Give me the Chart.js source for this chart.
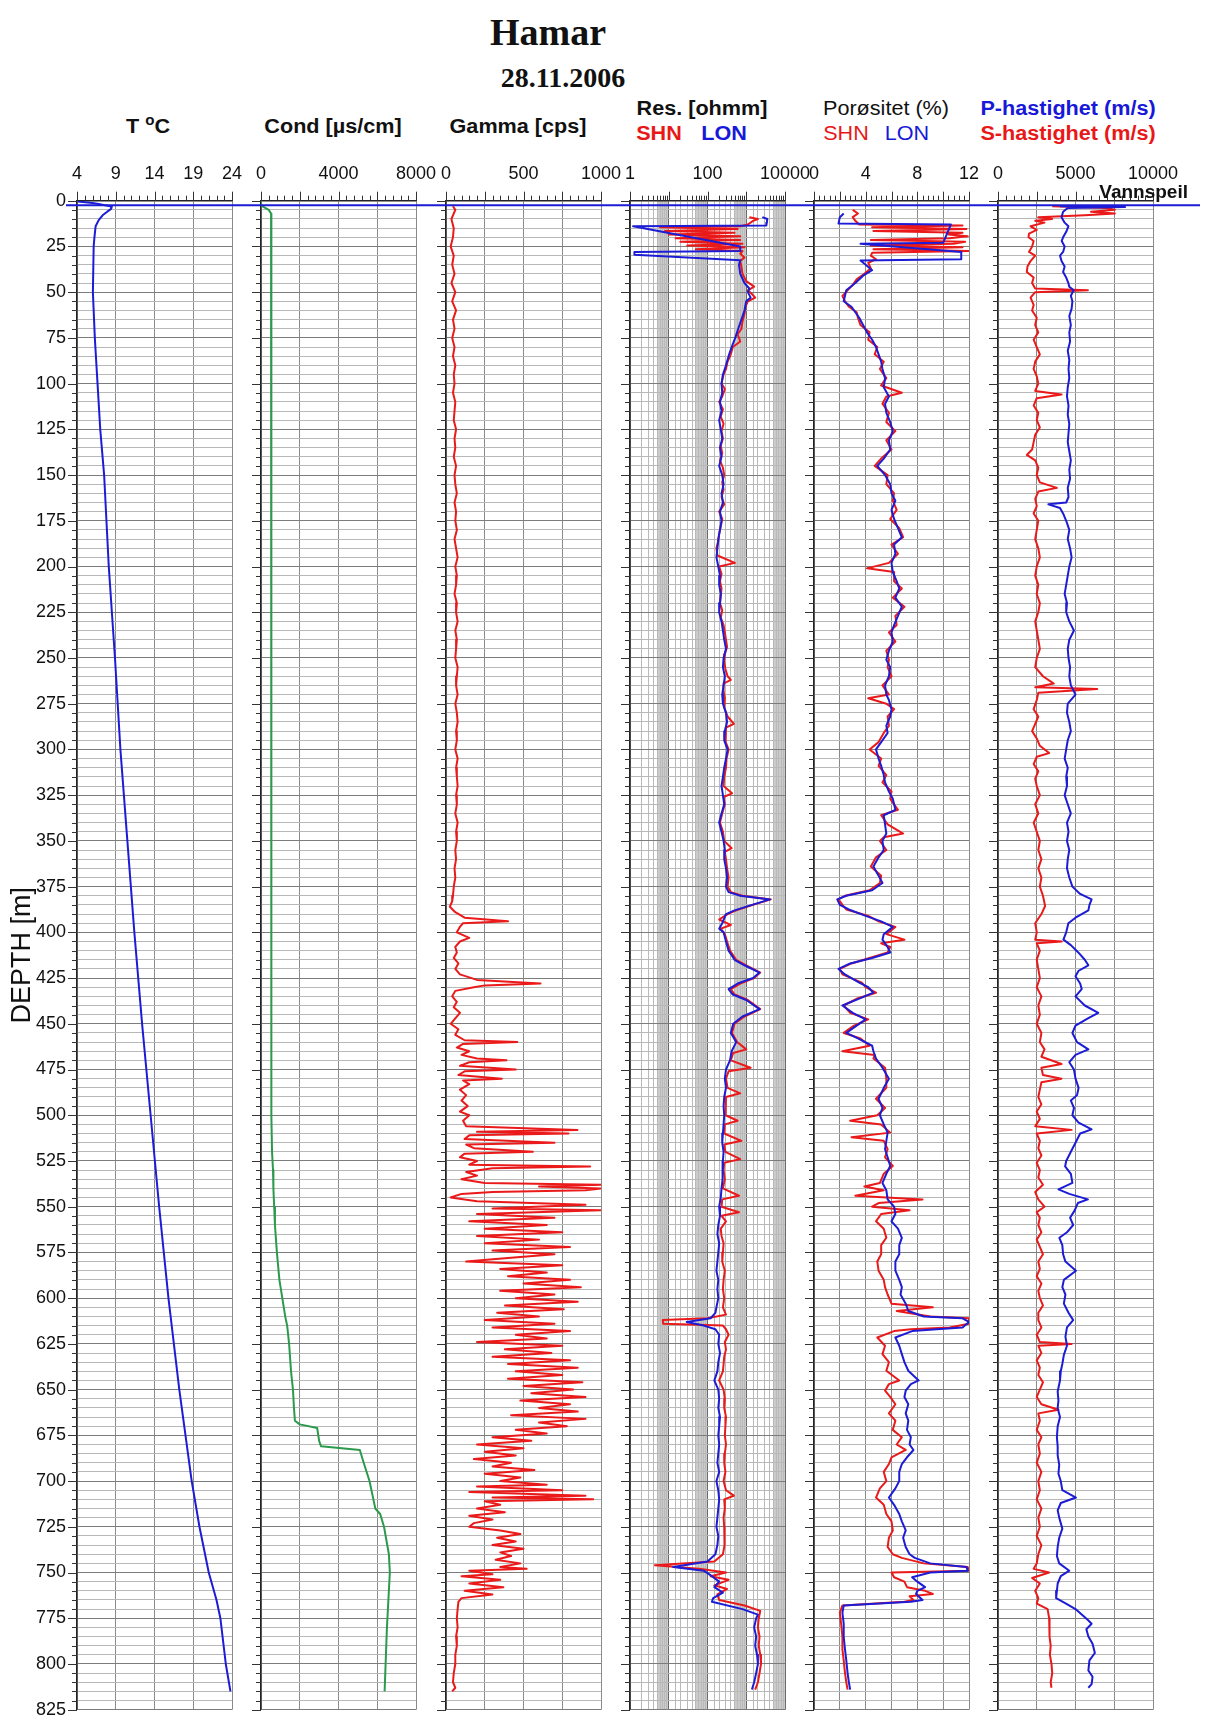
<!DOCTYPE html>
<html><head><meta charset="utf-8">
<script src="https://cdn.jsdelivr.net/npm/chart.js@4.4.1/dist/chart.umd.min.js"></script>
<style>
html,body{margin:0;padding:0;background:#fff}
body{width:1228px;height:1721px;position:relative;overflow:hidden;font-family:"Liberation Sans",Arial,sans-serif;color:#111}
canvas{position:absolute;top:140px}
.t{position:absolute;white-space:nowrap;transform:translateX(-50%);}
.h{position:absolute;white-space:nowrap;transform:translateX(-50%) scaleX(1.08);font-family:"Liberation Sans",Arial,sans-serif;font-size:20px;line-height:20px}
.b{font-weight:bold}
</style></head><body>
<div class="t" style="left:548px;top:13px;font:bold 38px/38px 'Liberation Serif',serif">Hamar</div>
<div class="t" style="left:563px;top:64px;font:bold 28px/28px 'Liberation Serif',serif">28.11.2006</div>
<div class="h b" style="left:148px;top:116px">T <span style="font-size:14px;position:relative;top:-8px">o</span>C</div>
<div class="h b" style="left:333px;top:116px">Cond [µs/cm]</div>
<div class="h b" style="left:518px;top:116px">Gamma [cps]</div>
<div class="h b" style="left:702px;top:98px">Res. [ohmm]</div>
<div class="h b" style="left:659px;top:123px;color:#e81818">SHN</div>
<div class="h b" style="left:724px;top:123px;color:#1818d8">LON</div>
<div class="h" style="left:886px;top:98px">Porøsitet (%)</div>
<div class="h" style="left:846px;top:123px;color:#e81818">SHN</div>
<div class="h" style="left:907px;top:123px;color:#1818d8">LON</div>
<div class="h b" style="left:1068px;top:98px;color:#1818d8">P-hastighet (m/s)</div>
<div class="h b" style="left:1068px;top:123px;color:#e81818">S-hastighet (m/s)</div>
<div style="position:absolute;right:40px;top:182px;font-weight:bold;font-size:19px;line-height:19px;z-index:20;font-family:'Liberation Sans',Arial,sans-serif">Vannspeil</div>
<script>
// ---------------- DATA (depth m, value) ----------------
const depthRange = [0, 825];
const waterDepth = 2.5;

const tempC = [[0.5,4.1],[1.2,6.0],[1.8,6.8],[2.5,7.6],[3.2,8.5],[4.5,8.4],[6,7.9],[8,7.3],[10.6,6.8],[14,6.4],[20,6.25],[25,6.15],[50,6.05],[75,6.3],[100,6.65],[125,7.0],[150,7.5],[200,8.1],[250,8.9],[300,9.6],[350,10.5],[400,11.4],[450,12.4],[500,13.5],[550,14.6],[600,15.8],[650,17.2],[700,18.8],[725,19.8],[750,21.0],[765,22.0],[775,22.5],[800,23.2],[815,23.8]];

const condUS = [[0,0],[2,0],[3,60],[5,400],[7,520],[50,520],[100,525],[200,530],[300,535],[400,540],[500,560],[520,570],[530,620],[540,640],[550,680],[560,720],[575,820],[590,950],[600,1100],[610,1250],[615,1350],[625,1450],[640,1550],[650,1650],[660,1700],[667,1750],[669,2000],[671,2900],[678,3000],[681,3100],[683,5100],[690,5300],[700,5600],[710,5800],[715,5900],[718,6150],[725,6350],[740,6600],[750,6650],[780,6500],[815,6380]];

const gammaCPS = [[3,45],[5,60],[10,35],[15,50],[20,45],[25,30],[30,50],[35,40],[40,55],[45,35],[50,60],[55,40],[60,65],[65,45],[70,55],[75,40],[80,55],[85,45],[90,60],[95,50],[100,55],[105,45],[110,60],[115,55],[120,50],[125,65],[130,55],[135,60],[140,50],[145,65],[150,55],[155,60],[160,70],[165,55],[170,65],[175,60],[180,70],[185,55],[190,65],[195,75],[200,60],[205,70],[210,65],[215,55],[220,70],[225,65],[230,75],[235,60],[240,70],[245,65],[250,60],[255,75],[260,70],[265,65],[270,75],[275,60],[280,70],[285,75],[290,65],[295,70],[300,60],[305,75],[310,65],[315,70],[320,75],[325,65],[330,70],[335,60],[340,75],[345,65],[350,70],[355,60],[360,65],[365,55],[370,60],[375,50],[380,45],
[383,40],[386,25],[389,60],[392,120],[394,400],[395,110],[397,90],[400,70],[403,150],[405,90],[408,60],[411,70],[414,50],[417,80],[420,60],[423,90],[426,200],[428,610],[429,250],[430,180],[432,60],[435,40],[438,70],[441,50],[444,90],[447,60],[450,30],[453,80],[456,60],[459,120],[460,460],[461,110],[463,70],[465,150],[467,100],[469,200],[470,390],[471,150],[473,90],[475,450],[476,120],[478,80],[480,360],[481,110],[483,150],[486,90],[489,130],[492,100],[495,140],[498,90],[500,150],[503,110],[506,130],[508,848],[509,200],[510,790],[511,150],[513,120],[515,700],[516,130],[518,180],[520,560],[521,120],[523,90],[525,200],[527,150],[528,930],[529,300],[531,130],[533,200],[535,100],[537,250],[538,1000],[539,600],[540,1000],[541,900],[542,300],[543,100],[545,30],[547,200],
[549,900],[551,300],[552,1000],[554,200],[556,700],[558,150],[560,650],[562,250],[564,750],[566,200],[568,600],[570,250],[572,800],[574,300],[576,700],[578,400],[580,130],[582,750],[584,350],[586,650],[588,400],[590,800],[592,500],[594,870],[596,350],[598,700],[600,450],[602,850],[604,380],[606,760],[608,330],[610,600],[612,250],[614,700],[616,300],[618,800],[620,450],[622,650],[624,200],[626,750],[628,380],[630,680],[632,300],[634,800],[636,400],[638,850],[640,450],[642,750],[644,400],[646,880],[648,500],[650,820],[652,550],[654,900],[656,480],[658,800],[660,600],[662,850],[664,420],[666,900],[668,600],[670,780],[672,450],[674,650],[676,300],[678,550],[680,200],[682,500],[684,250],[686,450],[688,180],[690,420],[692,300],[694,570],[696,250],[698,480],[700,350],[702,650],[703,200],[705,750],[706,150],[708,900],[709,300],[710,950],[711,250],[713,350],[715,200],[717,380],[719,150],[721,300],[723,180],[725,150],[727,350],[729,480],[731,330],[733,450],[735,300],[737,500],[739,350],[741,420],[743,320],[745,480],[747,350],[748,520],[749,150],[751,300],[752,100],[754,350],[756,150],[758,370],[760,120],[762,300],[764,100],[766,80],[770,75],[775,70],[780,75],[785,65],[790,70],[795,60],[800,60],[805,50],[810,45],[813,60],[815,40]];

const resLON = [[9,2600],[10,3500],[12,3400],[13.5,3300],[14,1.2],[25,700],[27.5,700],[28,1.3],[29.5,1.3],[32.5,700],[35,650],[40,700],[45,900],[48,1200],[50,1100],[53,1300],[55,1000],[60,900],[65,750],[70,620],[75,520],[80,420],[85,350],[90,300],[95,250],[100,230],[105,240],[110,210],[115,230],[120,200],[125,220],[130,240],[135,210],[140,230],[145,200],[150,240],[155,260],[160,230],[165,250],[170,210],[175,230],[180,210],[185,190],[190,180],[195,170],[200,190],[205,210],[210,200],[215,220],[220,210],[225,200],[230,230],[235,250],[240,270],[245,300],[250,260],[255,250],[260,280],[265,260],[270,240],[275,250],[280,300],[285,320],[290,280],[295,270],[300,330],[305,300],[310,270],[315,250],[320,230],[325,250],[330,270],[335,230],[340,200],[345,230],[350,260],[355,280],[360,270],[365,300],[370,320],[375,300],[378,350],[380,700],[382,4100],[385,1400],[388,500],[390,300],[395,240],[398,200],[400,260],[405,300],[410,350],[415,500],[418,900],[422,2200],[425,1500],[428,600],[431,350],[434,450],[437,1000],[442,2200],[446,800],[450,460],[455,400],[460,550],[465,420],[470,380],[475,300],[480,280],[485,300],[490,270],[495,260],[500,270],[505,260],[510,250],[515,240],[520,260],[525,250],[530,240],[535,250],[540,230],[545,220],[550,200],[555,210],[560,190],[565,180],[570,200],[575,190],[580,180],[585,170],[590,190],[595,180],[600,190],[605,170],[608,160],[611,120],[613,29],[615,80],[617,160],[620,200],[625,190],[630,210],[635,190],[640,180],[645,150],[650,190],[655,200],[660,190],[665,210],[670,200],[675,190],[680,200],[685,190],[690,180],[695,200],[700,170],[705,190],[710,200],[715,190],[720,180],[725,170],[730,190],[735,180],[740,160],[744,100],[747,13],[749,80],[752,130],[755,200],[758,150],[761,250],[764,140],[766,130],[770,800],[773,2000],[775,1800],[780,1600],[785,1800],[790,1700],[795,1900],[800,2000],[805,1800],[810,1600],[814,1400]];

const resSHN = [[9,1200],[10,2000],[11,1500],[13,1100],[14,700],[14.5,6],[15.5,600],[16.5,8],[17.5,500],[18.5,10],[19.5,700],[20.5,15],[21.5,700],[22.5,20],[23.5,800],[24.5,30],[25.5,900],[26.5,50],[27.5,800],[29,700],[31,900],[33,700],[36,750],[40,800],[44,1000],[47,1600],[49,1100],[51,1400],[53,1700],[55,1100],[58,950],[62,900],[66,800],[70,750],[73,600],[77,700],[80,450],[84,400],[88,330],[92,300],[95,260],[100,230],[103,280],[107,240],[110,200],[114,250],[118,220],[122,260],[126,230],[130,250],[134,220],[138,240],[142,210],[146,250],[150,270],[154,240],[158,260],[162,230],[166,270],[170,200],[174,240],[178,220],[182,200],[186,190],[190,170],[194,180],[198,510],[200,200],[204,230],[208,210],[212,230],[216,220],[220,210],[224,240],[228,220],[232,260],[236,280],[240,300],[244,320],[248,280],[252,270],[256,290],[260,330],[262,400],[264,260],[268,260],[272,280],[277,270],[282,330],[286,480],[288,300],[292,290],[296,300],[300,350],[305,310],[310,300],[315,270],[320,260],[324,430],[326,260],[330,280],[335,240],[340,210],[345,250],[350,270],[354,420],[356,280],[360,300],[365,320],[370,350],[375,330],[378,400],[380,800],[382,4300],[385,1500],[388,550],[390,330],[393,200],[396,400],[398,220],[401,280],[405,320],[410,380],[415,550],[418,1000],[422,2300],[425,1600],[428,700],[431,400],[434,500],[437,1100],[442,2300],[446,900],[450,500],[455,430],[460,580],[464,1000],[466,460],[470,400],[474,1300],[476,350],[480,300],[485,330],[488,700],[490,300],[495,290],[500,300],[503,600],[505,280],[510,270],[514,750],[516,270],[520,290],[524,700],[526,270],[530,260],[535,280],[540,250],[544,650],[546,240],[550,230],[553,650],[555,230],[558,300],[562,220],[566,230],[570,260],[575,250],[580,240],[585,280],[590,260],[595,250],[600,270],[605,250],[609,300],[611,100],[612,7],[614,7.2],[615,250],[617,300],[620,350],[624,280],[628,300],[632,270],[636,260],[640,250],[645,200],[650,260],[655,280],[660,270],[665,300],[670,290],[675,280],[680,300],[685,280],[690,270],[695,290],[700,260],[705,300],[708,480],[710,270],[715,280],[720,260],[725,270],[730,280],[735,270],[740,250],[744,150],[746,4.4],[748,60],[750,300],[752,120],[754,350],[757,150],[759,320],[762,180],[765,200],[768,900],[771,2300],[775,2100],[780,2000],[785,2200],[790,2100],[795,2300],[800,2400],[805,2200],[810,2000],[814,1700]];

const porLON = [[7,2.3],[9,2.0],[12.5,1.9],[13,10.6],[23,10.0],[23.5,3.6],[28,11.4],[32,11.4],[32.7,3.6],[35,4.0],[38,4.5],[41,3.8],[45,3.2],[49,2.5],[52,2.4],[55,2.3],[58,2.9],[61,3.2],[64,3.5],[68,3.8],[72,4.1],[76,4.5],[80,4.8],[84,5.0],[88,5.2],[92,5.3],[97,5.5],[102,5.4],[107,5.8],[111,5.5],[116,5.6],[121,5.9],[126,6.1],[131,5.8],[136,5.9],[141,5.4],[145,4.9],[150,5.5],[155,5.9],[160,6.0],[164,6.3],[169,6.0],[174,6.2],[179,6.5],[184,6.8],[188,6.2],[193,6.3],[198,6.0],[203,6.1],[208,6.4],[212,6.6],[217,6.3],[222,6.8],[227,6.5],[232,6.2],[236,6.0],[241,6.1],[246,5.8],[251,5.6],[255,5.9],[260,5.8],[265,5.5],[270,5.6],[273,5.8],[278,6.0],[282,5.9],[287,5.6],[291,5.7],[296,5.2],[300,4.8],[305,5.0],[309,5.2],[314,5.4],[318,5.5],[323,5.8],[327,6.1],[333,6.3],[336,5.4],[341,5.5],[346,5.6],[350,5.3],[355,5.4],[359,5.0],[364,4.6],[369,5.0],[373,5.3],[377,4.5],[380,2.5],[382,1.8],[385,2.0],[387.5,2.7],[391,4.0],[394,5.2],[397,6.1],[401,5.4],[404,5.3],[408,5.7],[411,5.9],[414,4.5],[417,2.8],[420,1.9],[423,2.4],[427.5,3.5],[430,4.2],[433,4.6],[436,3.6],[440,2.2],[444,3.0],[447.6,4.0],[451,3.3],[455,2.5],[458,3.4],[462,4.5],[465,4.6],[469,4.8],[474,5.3],[480,5.8],[485,5.4],[491,5.0],[496,5.3],[500,5.1],[505,5.4],[509.5,5.7],[514,5.6],[518.6,5.5],[523,5.7],[527.7,5.9],[532,5.6],[537,5.3],[541,5.6],[546,5.7],[550,6.2],[554,6.3],[558,6.0],[562,6.5],[567,6.8],[571,6.6],[576,6.6],[580,6.3],[585,6.3],[590,6.6],[594,6.8],[598,6.7],[603,7.1],[607,7.3],[610,8.5],[611,11.5],[613,12],[616,11.5],[617,9.5],[618,7.6],[621.5,6.3],[626,6.6],[630.6,6.8],[635,7.0],[639.7,7.3],[645,8.1],[647,7.5],[650.6,7.1],[654,7.0],[658,7.3],[663,7.1],[667,7.3],[672,7.2],[676,7.5],[680,7.4],[683,7.7],[687,7.2],[690.7,6.8],[695,6.6],[700,6.6],[704,6.3],[709,5.8],[713,6.2],[718,6.6],[722,6.8],[727,7.1],[731,6.9],[736,7.1],[740,7.4],[742,7.8],[745,9.0],[747,11.8],[749,11.9],[750,9.0],[752.6,7.6],[755,8.0],[758,8.6],[760,8.0],[761.7,7.9],[765,8.4],[766,7.5],[768,2.3],[772,2.2],[778,2.3],[785,2.3],[792,2.4],[798,2.5],[805,2.6],[810,2.7],[814,2.8]];

const porSHN = [[5,3.0],[7,3.4],[9,3.0],[11,3.2],[13,3.5],[13.5,11.5],[14.5,4.5],[15.5,11.8],[16.5,4.6],[17.5,11.5],[18.5,10.4],[19.5,11.9],[20.5,10.5],[21.5,4.4],[22.5,11.7],[23.5,10.8],[24.5,4.4],[25.5,11.5],[26.5,4.6],[27.5,12],[28.5,4.5],[30,4.4],[32,4.8],[34,4.2],[37,4.4],[40,3.9],[43,3.3],[46,3.0],[49,2.6],[52,2.2],[55,2.4],[58,2.7],[61,3.3],[64,3.4],[68,3.6],[72,4.3],[76,4.2],[80,4.9],[84,4.7],[88,5.4],[92,5.1],[97,5.6],[101,5.2],[105,6.8],[107,5.6],[111,5.3],[116,5.8],[121,5.6],[126,6.3],[131,5.6],[136,6.0],[141,5.2],[145,4.7],[150,5.7],[155,5.6],[160,6.2],[164,6.1],[169,6.4],[174,5.9],[179,6.6],[184,6.9],[188,6.0],[193,6.5],[198,5.8],[201,4.1],[203,6.2],[208,6.2],[212,6.8],[217,6.1],[222,7.0],[227,6.3],[232,6.4],[236,5.8],[241,6.3],[246,5.6],[251,5.8],[255,5.7],[260,6.0],[265,5.3],[270,5.8],[272,4.2],[275,5.6],[278,6.2],[282,5.7],[287,5.8],[291,5.4],[296,5.0],[300,4.3],[305,5.2],[309,5.0],[314,5.6],[318,5.3],[323,6.0],[327,5.9],[333,6.5],[336,5.2],[341,5.7],[346,6.9],[348,5.4],[350,5.1],[355,5.6],[359,4.8],[364,4.4],[369,5.2],[373,5.1],[377,4.3],[380,2.4],[382,1.9],[385,2.2],[387.5,2.5],[391,4.2],[394,5.0],[397,6.3],[401,5.6],[404,7.0],[406,5.2],[408,5.9],[411,5.7],[414,4.3],[417,2.9],[420,2.0],[423,2.2],[427.5,3.7],[430,4.0],[433,4.8],[436,3.4],[440,2.3],[444,2.8],[447.6,4.2],[451,3.1],[455,2.3],[458,3.6],[462,4.3],[465,2.2],[467,4.7],[469,4.6],[474,5.5],[480,5.6],[485,5.6],[491,4.8],[496,5.5],[500,4.9],[503,2.8],[505,5.2],[509.5,5.9],[512,2.9],[514,5.4],[518.6,5.7],[523,5.5],[527.7,6.1],[532,5.4],[537,5.1],[539,3.9],[541,5.4],[544,3.2],[546,8.4],[548,5.0],[550,4.5],[552,7.4],[554,5.2],[558,4.8],[562,5.4],[567,5.6],[571,5.2],[576,5.2],[580,4.9],[585,5.0],[590,5.4],[594,5.5],[598,5.7],[603,6.0],[605,9.2],[607,6.4],[610,9.0],[611,12],[614,12],[616,10.5],[617,7.5],[618,6.2],[621.5,4.9],[626,5.5],[630.6,5.3],[635,5.8],[639.7,5.6],[645,6.6],[647,5.8],[650.6,5.5],[654,5.9],[658,6.3],[663,5.8],[667,6.3],[672,6.1],[676,6.8],[680,6.4],[683,7.1],[687,6.0],[690.7,5.8],[695,5.4],[700,5.6],[704,5.1],[709,4.8],[713,5.4],[718,5.6],[722,6.0],[727,6.1],[731,5.8],[736,5.7],[740,6.1],[742,6.8],[745,8.5],[747,11.9],[749,12],[750,6.0],[752.6,6.2],[755,7.0],[758,7.2],[760,8.6],[761.7,9.2],[763,7.4],[765,7.7],[766,7.0],[768,2.2],[772,2.0],[778,2.1],[785,2.2],[792,2.2],[798,2.3],[805,2.4],[810,2.5],[814,2.6]];

const velP = [[3,4000],[3.5,8200],[4,4500],[6,4200],[9,4100],[12,4300],[14,4540],[17,4400],[20,4200],[22,4110],[25,4300],[28,4200],[30,4000],[33,4100],[36,4300],[39,4200],[42,4400],[45,4540],[47,4600],[49,4880],[52,4700],[55,4800],[59,4750],[63,4600],[68,4700],[72,4600],[77,4650],[82,4500],[87,4600],[92,4550],[97,4600],[102,4500],[107,4450],[112,4550],[117,4500],[122,4600],[127,4550],[132,4500],[137,4600],[142,4700],[147,4600],[152,4650],[157,4500],[162,4550],[165,4400],[166,3250],[168,4000],[171,4200],[175,4400],[180,4600],[185,4500],[190,4650],[195,4750],[200,4600],[205,4500],[210,4400],[215,4300],[220,4450],[225,4400],[230,4600],[235,4900],[240,4600],[245,4500],[250,4550],[255,4650],[260,4600],[265,4700],[270,5000],[275,4500],[280,4450],[285,4600],[290,4700],[295,4500],[300,4400],[305,4300],[310,4500],[315,4400],[320,4450],[325,4300],[330,4500],[335,4700],[340,4450],[345,4550],[350,4450],[355,4600],[360,4500],[365,4450],[370,4600],[375,4800],[379,5300],[382,6040],[385,5900],[388,5830],[392,5000],[395,4540],[400,4400],[404,4220],[407,4700],[411,5180],[415,5600],[418,5830],[421,5200],[424,5000],[428,5300],[431,5400],[435,5000],[440,5600],[444,6470],[447,5800],[451,5000],[455,4800],[460,5100],[464,5830],[467,5000],[471,4600],[475,4900],[480,5000],[485,5200],[489,5100],[492,4700],[496,4900],[500,4800],[504,5200],[507.7,6040],[510,5300],[515,5000],[520,4700],[525,4400],[528,4330],[532,4700],[537,4800],[540.5,3900],[543,4600],[546,5800],[548,5150],[552,4950],[556,4650],[560,4850],[564,4450],[567,3960],[571,4150],[576,4200],[580,4350],[585,5030],[590,4250],[594,4150],[598,4350],[603,4250],[608,4550],[612,4850],[616,4450],[621,4350],[626,4450],[631,4250],[636,4150],[640,4050],[645,4000],[651,3850],[656,3900],[660,3850],[665,4000],[670,3850],[676,3800],[681,3850],[686,3850],[691,3950],[696,3900],[700,4050],[705,4150],[709,5030],[712,4050],[716,3850],[720,3950],[726,4150],[731,3950],[736,3850],[741,3800],[745,3950],[749,4600],[752,4050],[756,3850],[760,3800],[764,3750],[767,4390],[770,5000],[773,5400],[776,5800],[778,6040],[781,5700],[785,5830],[789,6100],[794,6250],[798,5900],[803.6,5830],[807,6100],[811,6040],[813,5830]];

const velS = [[3,3500],[4,7000],[5,7540],[6,6000],[7,7540],[8,5600],[9,2600],[10,3500],[11,2400],[12,3000],[14,2100],[16,2500],[18,2000],[20,1970],[22,2300],[25,2200],[28,2000],[30,2400],[33,2100],[36,1900],[39,1860],[42,2300],[45,2200],[48,2400],[49,5800],[50,2400],[53,2100],[57,2300],[60,2200],[64,2500],[68,2400],[72,2600],[76,2300],[80,2500],[84,2700],[88,2400],[92,2300],[96,2500],[100,2600],[104,2400],[106,4100],[108,2500],[112,2300],[116,2600],[120,2500],[124,2700],[128,2400],[132,2300],[136,2200],[139,1860],[142,2400],[146,2600],[150,2500],[154,2700],[157,3800],[159,2600],[163,2400],[167,2500],[171,2300],[175,2600],[180,2500],[185,2400],[190,2600],[195,2700],[200,2500],[205,2400],[210,2600],[215,2500],[220,2700],[225,2600],[230,2400],[235,2500],[240,2600],[245,2700],[250,2500],[255,2400],[260,2900],[264,3600],[266,2400],[267,6400],[269,2600],[273,2500],[278,2300],[282,2600],[286,2400],[290,2200],[294,2500],[298,2700],[302,3300],[304,2500],[308,2300],[312,2600],[316,2400],[320,2500],[325,2700],[330,2400],[335,2600],[340,2300],[345,2500],[350,2700],[355,2600],[360,2800],[365,2600],[370,2800],[375,2700],[380,2900],[385.6,3040],[390,2800],[395,2400],[400,2500],[404,2400],[405,4110],[406,2500],[410,2700],[415,2500],[420,2600],[425,2700],[430,2500],[435,2800],[440,2600],[445,2700],[450,2500],[455,2800],[460,2700],[464,3000],[468,2800],[472,4100],[474,2800],[478,2900],[480,4100],[482,2800],[486,2700],[490,2600],[494,2800],[498,2500],[502,2700],[506,2400],[508,4750],[510,2500],[514,2700],[518,2600],[522,2800],[526,2500],[530,2700],[534,2600],[538,2900],[542,2400],[546,2600],[550,3000],[553,2500],[556,2700],[560,2600],[564,2800],[568,2500],[572,2700],[576,2900],[580,2600],[584,2700],[588,2500],[592,2800],[596,2600],[600,2700],[604,2900],[608,2600],[612,2600],[616,2800],[620,2500],[624,2700],[625,4750],[626,2600],[630,2800],[634,2500],[638,2700],[642,2600],[646,2900],[650,2700],[654,2500],[658,2800],[661,3900],[663,2600],[667,2700],[672,2500],[676,2800],[680,2600],[685,2700],[690,2500],[695,2800],[700,2600],[705,2700],[710,2500],[715,2800],[720,2600],[725,2700],[730,2500],[735,2800],[740,2600],[745,2500],[748,2300],[750,3300],[753,2200],[756,2700],[760,2400],[764,2600],[767,2500],[770,3200],[775,3300],[780,3350],[785,3300],[790,3400],[795,3350],[800,3450],[805,3500],[810,3400],[813,3450]];

// tick label values of each track
const tempLabels = [4, 9, 14, 19, 24];
const condLabels = [0, 4000, 8000];
const gammaLabels = [0, 500, 1000];
const resLabels = [1, 100, 10000];
const porLabels = [0, 4, 8, 12];
const velLabels = [0, 5000, 10000];
const depthLabelStep = 25;

// ---------------- LAYOUT ----------------
const RED = '#ea1a1a', BLUE = '#1c1cd6', GREEN = '#2c9a4c';
const CANVAS_TOP = 140, CHART_TOP = 200.7, CHART_BOTTOM = 1709.7, TW = 155;
const CH = 1721 - CANVAS_TOP;
const toXY = a => a.map(p => ({x: p[1], y: p[0]}));

Chart.defaults.font.family = '"Liberation Sans", Arial, sans-serif';
Chart.defaults.color = '#111';

const trackPlugin = {
  id: 'track',
  beforeDraw(chart, args, o) {
    if (!o.bands) return;
    const {ctx, chartArea: a} = chart, x = chart.scales.x;
    ctx.save(); ctx.fillStyle = '#cbcbcb';
    for (const [lo, hi] of o.bands) {
      const x0 = x.getPixelForValue(lo), x1 = x.getPixelForValue(hi);
      ctx.fillRect(x0, a.top, x1 - x0, a.bottom - a.top);
    }
    ctx.restore();
  },
  afterDraw(chart, args, o) {
    const {ctx, chartArea: a} = chart, x = chart.scales.x, y = chart.scales.y;
    ctx.save(); ctx.strokeStyle = '#333'; ctx.lineWidth = 1; ctx.beginPath();
    for (const [v, major] of o.ruler) {
      const px = Math.round(x.getPixelForValue(v)) + 0.5, len = major ? 9 : 5;
      ctx.moveTo(px, a.top); ctx.lineTo(px, a.top - len);
    }
    for (let d = depthRange[0]; d <= depthRange[1]; d += 5) {
      const py = Math.round(y.getPixelForValue(d)) + 0.5, len = d % 25 === 0 ? 9 : 5;
      ctx.moveTo(a.left - len, py); ctx.lineTo(a.left, py);
    }
    ctx.stroke();
    if (o.water) {
      const py = y.getPixelForValue(waterDepth);
      ctx.strokeStyle = BLUE; ctx.lineWidth = 2.2; ctx.beginPath();
      ctx.moveTo(o.water[0], py); ctx.lineTo(o.water[1], py); ctx.stroke();
    }
    ctx.restore();
  }
};

function linRuler(min, max, step, sub) {
  const r = [], n = Math.round((max - min) / step * sub);
  for (let i = 0; i <= n; i++) r.push([min + i * step / sub, i % sub === 0]);
  return r;
}
function logRuler(min, max) {
  const r = [];
  for (let e = Math.log10(min); e < Math.log10(max); e++)
    for (let k = 1; k <= 9; k++) r.push([k * Math.pow(10, e), k === 1]);
  r.push([max, true]);
  return r;
}

function makeTrack(cfg) {
  const c = document.createElement('canvas');
  c.width = cfg.cw; c.height = CH;
  c.style.left = cfg.cl + 'px'; c.style.width = cfg.cw + 'px'; c.style.height = CH + 'px';
  c.style.zIndex = cfg.z || 1;
  document.body.appendChild(c);
  const isLog = cfg.type === 'logarithmic';
  const xs = {
    type: cfg.type || 'linear', position: 'top', min: cfg.min, max: cfg.max,
    ticks: {autoSkip: false, maxRotation: 0, padding: 16, font: {size: 18}, color: '#111',
      callback: v => cfg.labels.includes(v) ? String(v) : ''},
    grid: {drawTicks: false, lineWidth: 1,
      color: ctx => {
        if (!isLog) return '#8a8a8a';
        const v = ctx.tick ? ctx.tick.value : 1;
        return Math.abs(Math.log10(v) - Math.round(Math.log10(v))) < 1e-6 ? '#6a6a6a' : '#b9b9b9';
      }},
    border: {display: true, color: '#222', width: 1.5},
    afterFit(s) { s.height = CHART_TOP - CANVAS_TOP; s.paddingLeft = 0; s.paddingRight = 0; }
  };
  if (!isLog) xs.ticks.stepSize = cfg.step;
  return new Chart(c, {
    type: 'scatter',
    data: {datasets: cfg.datasets.map(d => ({data: toXY(d.data), showLine: true, borderColor: d.color,
      borderWidth: d.width || 1.8, pointRadius: 0, fill: false, tension: 0, borderJoinStyle: 'round'}))},
    options: {
      responsive: false, animation: false, devicePixelRatio: 1, events: [],
      layout: {padding: {top: 0, left: 0, right: cfg.cw - cfg.yw - TW, bottom: CH - (CHART_BOTTOM - CANVAS_TOP)}},
      plugins: {legend: {display: false}, tooltip: {enabled: false},
        track: {ruler: cfg.ruler, bands: cfg.bands, water: cfg.water}},
      scales: {
        x: xs,
        y: {type: 'linear', reverse: true, min: depthRange[0], max: depthRange[1],
          ticks: {display: !!cfg.depthLabels, stepSize: 5, autoSkip: false, padding: 11, font: {size: 18}, color: '#111',
            callback: v => v % depthLabelStep === 0 ? String(v) : ''},
          grid: {drawTicks: false, lineWidth: 1,
            color: ctx => (ctx.tick && ctx.tick.value % 25 === 0) ? '#7c7c7c' : '#b8b8b8'},
          border: {display: true, color: '#222', width: 1.5},
          title: {display: !!cfg.depthLabels, text: 'DEPTH [m]', font: {size: 27}, color: '#111', padding: {top: 6, bottom: 0}},
          afterFit(s) { s.width = cfg.yw; s.paddingTop = 0; s.paddingBottom = 0; }
        }
      }
    },
    plugins: [trackPlugin]
  });
}

const L = [77, 261, 446, 630, 814, 998];
const resBands = [[5, 10], [50, 100], [500, 1000], [5000, 10000]];

makeTrack({cl: 0, cw: 1228, yw: L[0], z: 10, min: 4, max: 24, step: 5, labels: tempLabels,
  ruler: linRuler(4, 24, 5, 5), depthLabels: true, water: [66, 1200],
  datasets: [{data: tempC, color: BLUE, width: 2}]});
makeTrack({cl: L[1] - 40, cw: TW + 80, yw: 40, min: 0, max: 8000, step: 2000, labels: condLabels,
  ruler: linRuler(0, 8000, 2000, 5), datasets: [{data: condUS, color: GREEN, width: 2}]});
makeTrack({cl: L[2] - 40, cw: TW + 80, yw: 40, min: 0, max: 1000, step: 250, labels: gammaLabels,
  ruler: linRuler(0, 1000, 250, 5), datasets: [{data: gammaCPS, color: RED, width: 2}]});
makeTrack({cl: L[3] - 40, cw: TW + 80, yw: 40, type: 'logarithmic', min: 1, max: 10000, labels: resLabels,
  ruler: logRuler(1, 10000), bands: resBands,
  datasets: [{data: resLON, color: BLUE, width: 2}, {data: resSHN, color: RED, width: 2}]});
makeTrack({cl: L[4] - 40, cw: TW + 80, yw: 40, min: 0, max: 12, step: 2, labels: porLabels,
  ruler: linRuler(0, 12, 2, 5), datasets: [{data: porLON, color: BLUE, width: 2}, {data: porSHN, color: RED, width: 2}]});
makeTrack({cl: L[5] - 40, cw: TW + 80, yw: 40, min: 0, max: 10000, step: 2500, labels: velLabels,
  ruler: linRuler(0, 10000, 2500, 5), datasets: [{data: velP, color: BLUE, width: 2}, {data: velS, color: RED, width: 2}]});
</script>
</body></html>
